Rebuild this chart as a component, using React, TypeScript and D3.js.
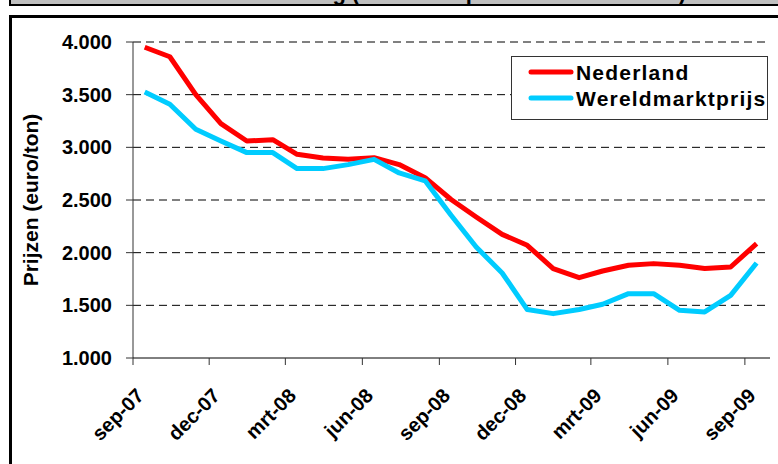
import React from 'react';
import { scaleLinear, scaleTime, line, timeMonth, timeDay } from 'd3';

// monthly prices, sep-07 .. sep-09 (euro/ton)
const startMonth = new Date(2007, 8, 1);
const endMonth = new Date(2009, 9, 1);
const nederland = [3950, 3860, 3500, 3225, 3060, 3073, 2934, 2899, 2886, 2902, 2836, 2712, 2505, 2339, 2174, 2070, 1849, 1763, 1826, 1880, 1896, 1880, 1849, 1864, 2086];
const wereldmarkt = [3525, 3409, 3171, 3060, 2950, 2950, 2798, 2798, 2836, 2886, 2757, 2682, 2355, 2054, 1807, 1460, 1421, 1460, 1510, 1611, 1611, 1453, 1437, 1595, 1902];
const seriesNames = ['Nederland', 'Wereldmarktprijs'];
const tickLabels = ['sep-07', 'dec-07', 'mrt-08', 'jun-08', 'sep-08', 'dec-08', 'mrt-09', 'jun-09', 'sep-09'];
const yTicks = [1000, 1500, 2000, 2500, 3000, 3500, 4000];
const yLabels = ['1.000', '1.500', '2.000', '2.500', '3.000', '3.500', '4.000'];

const font = '"Liberation Sans", Arial, sans-serif';

const App = () => {
    let margin = { top: 42, right: 8, bottom: 106, left: 133 };
    let width = 778, height = 464;

    let x = scaleTime().domain([startMonth, endMonth]).range([margin.left, width - margin.right]);
    let y = scaleLinear().domain([1000, 4000]).range([height - margin.bottom, margin.top]);

    let months = timeMonth.range(startMonth, timeMonth.offset(startMonth, nederland.length));
    let tickDates = timeMonth.range(startMonth, endMonth, 3);

    let linefunc = line<number>().x((d, i) => x(timeDay.offset(months[i], 14))).y(d => y(d));

    let colors = ['#ff0000', '#00ccff'];
    let data = [nederland, wereldmarkt];

    return (
        <svg width={width} height={height} style={{ position: 'absolute', left: 0, top: 0, fontFamily: font }}>
            {/* title box, cut off at the top */}
            <rect x={10} y={-30} width={800} height={35} fill="#c0c0c0" stroke="#000" strokeWidth={2} />
            <text x={154} y={0} fontSize={22} fontWeight="bold">Marktontwikkeling (volle melkpoeder in Nederland)</text>
            {/* chart box */}
            <rect x={10.5} y={16.5} width={800} height={500} fill="#fff" stroke="#000" strokeWidth={3} />

            {/* grid */}
            {yTicks.filter(t => t > 1000).map(t =>
                <line key={t} x1={margin.left} x2={width - margin.right} y1={y(t)} y2={y(t)} stroke="#000" strokeWidth={1} strokeDasharray="8,5" />
            )}
            {yTicks.map((t, i) =>
                <g key={t}>
                    <line x1={margin.left - 7} x2={margin.left} y1={y(t)} y2={y(t)} stroke="#333" strokeWidth={1} />
                    <text x={112} y={y(t)} dy="0.35em" textAnchor="end" fontSize={20} fontWeight="bold">{yLabels[i]}</text>
                </g>
            )}
            <line x1={margin.left} x2={margin.left} y1={margin.top} y2={y(1000)} stroke="#333" strokeWidth={1} />
            <line x1={margin.left} x2={width - margin.right} y1={y(1000)} y2={y(1000)} stroke="#000" strokeWidth={1} />
            {tickDates.map((d, i) =>
                <g key={i} transform={`translate(${x(d)},${y(1000)})`}>
                    <line y2={7} stroke="#333" strokeWidth={1} />
                    <text transform="translate(12,39) rotate(-45)" textAnchor="end" fontSize={20} fontWeight="bold">{tickLabels[i]}</text>
                </g>
            )}
            <text transform={`translate(38,${(margin.top + y(1000)) / 2}) rotate(-90)`} textAnchor="middle" fontSize={21} fontWeight="bold">Prijzen (euro/ton)</text>

            {data.map((s, i) =>
                <path key={i} d={linefunc(s)} fill="none" stroke={colors[i]} strokeWidth={5} strokeLinejoin="round" />
            )}

            {/* legend */}
            <rect x={511.5} y={56.5} width={256} height={63} fill="#fff" stroke="#333" strokeWidth={1} />
            {seriesNames.map((n, i) =>
                <g key={n} transform={`translate(531,${72 + i * 26})`}>
                    <line x1={0} x2={40} stroke={colors[i]} strokeWidth={5} strokeLinecap="round" />
                    <text x={45} dy="0.36em" fontSize={21} fontWeight="bold" letterSpacing={1.2}>{n}</text>
                </g>
            )}
        </svg>
    )
}

export default App;
